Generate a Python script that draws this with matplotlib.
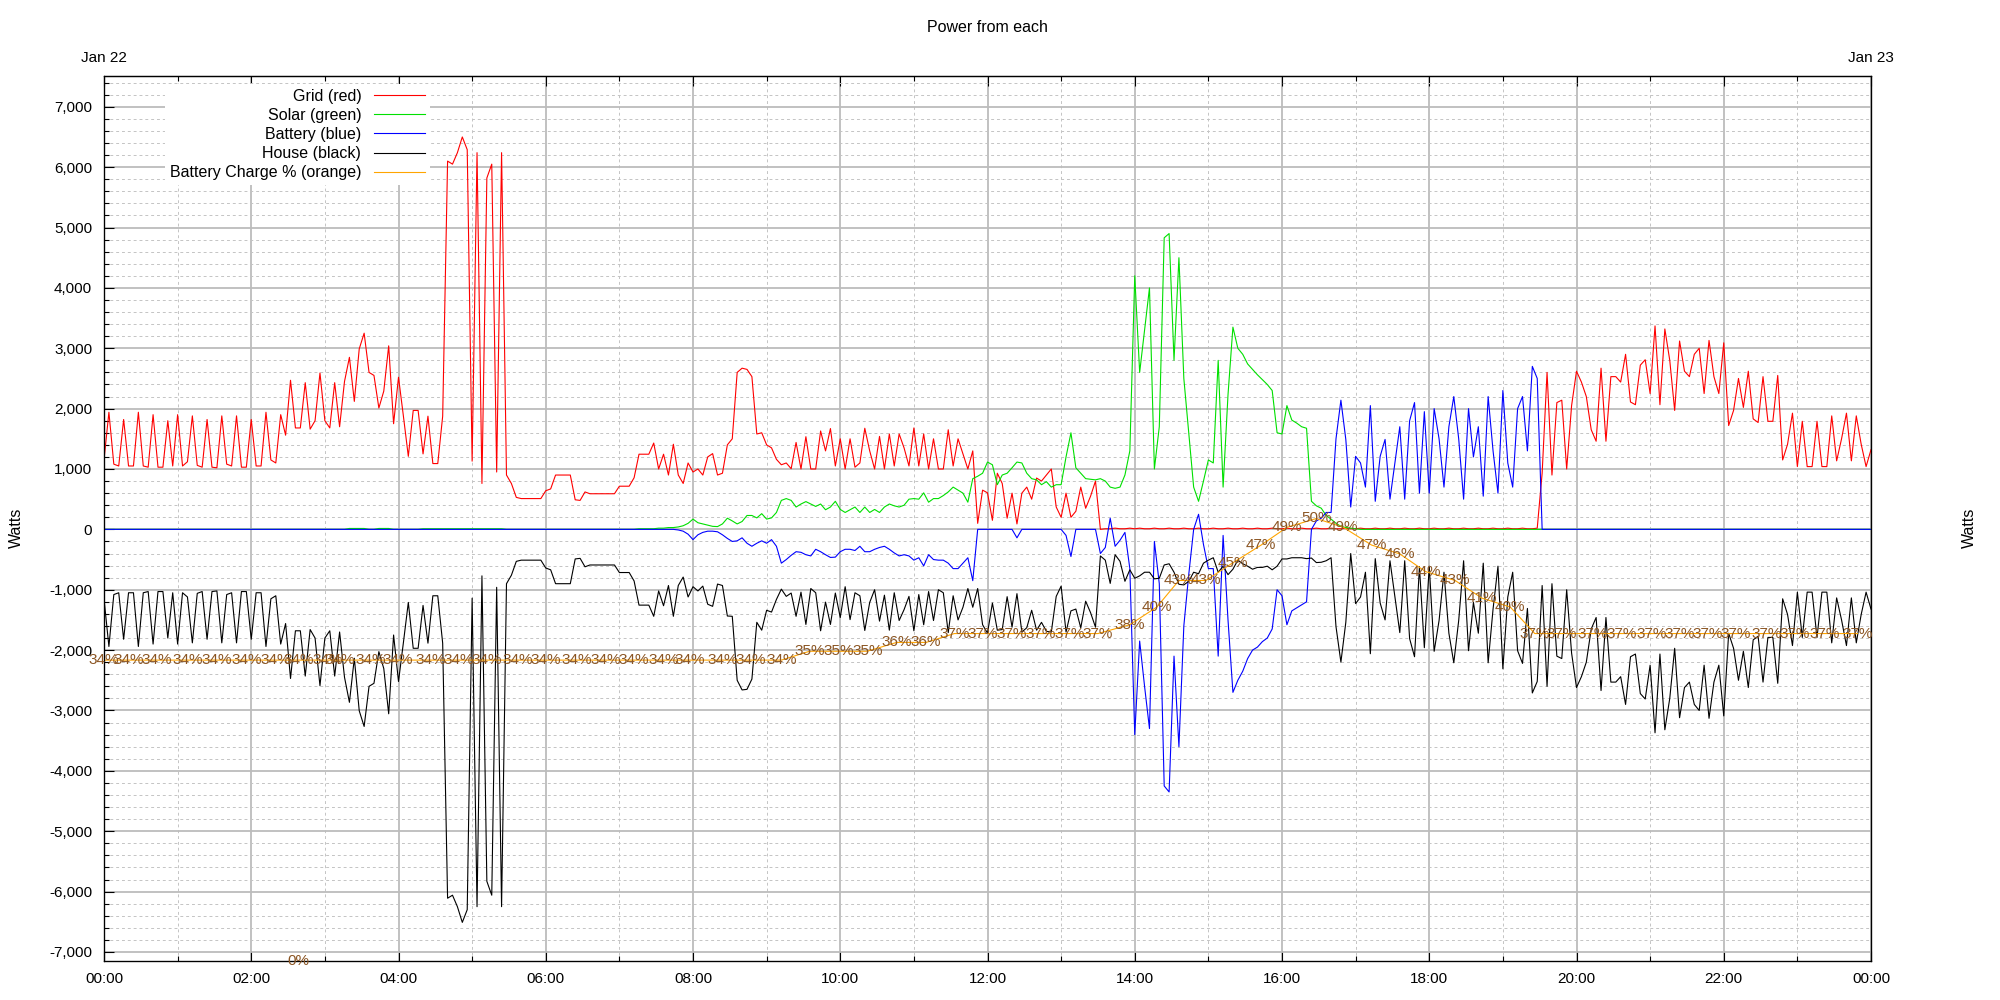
import matplotlib
matplotlib.use("Agg")
import matplotlib.pyplot as plt
from matplotlib.ticker import MultipleLocator, FuncFormatter

plt.rcParams['font.family'] = ['Liberation Sans', 'DejaVu Sans']

# ---------------------------------------------------------------------------
# data, one sample every 4 minutes, 00:00 Jan 22 -> 00:00 Jan 23 (watts)
# ---------------------------------------------------------------------------

minutes = list(range(0, 24 * 60 + 1, 4))

grid_w = [
    1150, 1940, 1080, 1050, 1820, 1050, 1050, 1940, 1050, 1030, 1900, 1030, 1030, 1800, 1050,  # 00h
    1900, 1050, 1120, 1880, 1060, 1030, 1820, 1030, 1020, 1880, 1080, 1050, 1880, 1030, 1030,  # 01h
    1820, 1050, 1050, 1940, 1150, 1100, 1900, 1560, 2470, 1680, 1680, 2430, 1660, 1800, 2590,  # 02h
    1800, 1680, 2430, 1700, 2450, 2850, 2120, 2990, 3250, 2600, 2550, 2010, 2290, 3040, 1750,  # 03h
    2520, 1875, 1210, 1970, 1970, 1250, 1875, 1090, 1090, 1875, 6100, 6050, 6240, 6500, 6290,  # 04h
    1130, 6240, 760, 5820, 6050, 950, 6240, 900, 760, 530, 510, 510, 510, 510, 510,  # 05h
    640, 670, 900, 900, 900, 900, 490, 480, 620, 590, 590, 590, 590, 590, 590,  # 06h
    715, 715, 715, 855, 1245, 1245, 1245, 1430, 1000, 1245, 900, 1410, 900, 760, 1100,  # 07h
    950, 1000, 900, 1200, 1255, 900, 930, 1400, 1500, 2600, 2670, 2650, 2530, 1580, 1600,  # 08h
    1400, 1350, 1160, 1070, 1100, 1005, 1440, 1000, 1535, 1000, 1000, 1630, 1300, 1670, 1050,  # 09h
    1500, 1000, 1500, 1030, 1100, 1675, 1300, 1000, 1540, 1000, 1580, 1050, 1580, 1350, 1050,  # 10h
    1680, 1050, 1580, 1000, 1500, 1000, 1000, 1650, 1050, 1500, 1250, 1000, 1300, 100, 650,  # 11h
    605, 150, 930, 760, 185, 600, 90, 600, 700, 500, 850, 800, 900, 1000, 370,  # 12h
    200, 600, 200, 300, 700, 350, 550, 800, 0, 10, 10, 20, 10, 10, 20,  # 13h
    10, 20, 10, 10, 20, 10, 10, 20, 10, 10, 20, 10, 10, 20, 10,  # 14h
    10, 20, 10, 10, 20, 10, 10, 20, 10, 10, 20, 10, 10, 20, 10,  # 15h
    10, 20, 10, 10, 20, 10, 10, 20, 10, 10, 20, 10, 10, 20, 10,  # 16h
    10, 20, 10, 10, 20, 10, 10, 20, 10, 10, 20, 10, 10, 20, 10,  # 17h
    10, 20, 10, 10, 20, 10, 10, 20, 10, 10, 20, 10, 10, 20, 10,  # 18h
    10, 20, 10, 10, 20, 10, 10, 20, 930, 2600, 900, 2100, 2140, 1000, 2050,  # 19h
    2620, 2440, 2200, 1650, 1460, 2670, 1460, 2530, 2530, 2440, 2900, 2110, 2065, 2720, 2810,  # 20h
    2250, 3370, 2065, 3320, 2800, 1970, 3120, 2620, 2530, 2900, 3000, 2250, 3130, 2530, 2250,  # 21h
    3090, 1720, 1970, 2500, 2020, 2620, 1830, 1770, 2530, 1790, 1790, 2550, 1150, 1410, 1925,  # 22h
    1040, 1790, 1040, 1040, 1790, 1040, 1040, 1880, 1135, 1500, 1925, 1135, 1880, 1410, 1040,  # 23h
    1320,
]

solar_w = [
    0, 0, 0, 0, 0, 0, 0, 0, 0, 0, 0, 0, 0, 0, 0,  # 00h
    0, 0, 0, 0, 0, 0, 0, 0, 0, 0, 0, 0, 0, 0, 0,  # 01h
    0, 0, 0, 0, 0, 0, 0, 0, 0, 0, 0, 0, 0, 0, 0,  # 02h
    0, 0, 0, 0, 0, 15, 15, 15, 15, 0, 0, 15, 15, 15, 0,  # 03h
    0, 0, 0, 0, 0, 10, 10, 10, 10, 10, 10, 10, 10, 10, 10,  # 04h
    10, 10, 10, 10, 10, 10, 10, 0, 0, 0, 0, 0, 0, 0, 0,  # 05h
    0, 0, 0, 0, 0, 0, 0, 0, 0, 0, 0, 0, 0, 0, 0,  # 06h
    0, 0, 0, 0, 10, 10, 10, 10, 20, 20, 30, 30, 40, 60, 100,  # 07h
    170, 110, 90, 70, 50, 46, 90, 185, 140, 90, 130, 230, 230, 190, 260,  # 08h
    170, 190, 280, 480, 510, 480, 370, 420, 460, 420, 380, 420, 325, 370, 465,  # 09h
    330, 280, 325, 370, 280, 370, 280, 330, 280, 370, 420, 390, 370, 400, 500,  # 10h
    510, 500, 605, 450, 510, 510, 560, 620, 700, 650, 600, 450, 840, 880, 930,  # 11h
    1115, 1070, 740, 900, 930, 1020, 1115, 1100, 930, 840, 820, 740, 790, 700, 740,  # 12h
    740, 1200, 1600, 1020, 930, 840, 830, 820, 840, 800, 700, 680, 700, 900, 1300,  # 13h
    4200, 2600, 3300, 4000, 1000, 1700, 4830, 4900, 2800, 4500, 2500, 1600, 700, 465, 800,  # 14h
    1150, 1100, 2800, 700, 2230, 3350, 3000, 2900, 2740, 2650, 2560, 2480, 2400, 2300, 1600,  # 15h
    1580, 2050, 1810, 1760, 1700, 1675, 465, 390, 350, 230, 170, 100, 50, 30, 20,  # 16h
    10, 0, 0, 0, 0, 0, 0, 0, 0, 0, 0, 0, 0, 0, 0,  # 17h
    0, 0, 0, 0, 0, 0, 0, 0, 0, 0, 0, 0, 0, 0, 0,  # 18h
    0, 0, 0, 0, 0, 0, 0, 0, 0, 0, 0, 0, 0, 0, 0,  # 19h
    0, 0, 0, 0, 0, 0, 0, 0, 0, 0, 0, 0, 0, 0, 0,  # 20h
    0, 0, 0, 0, 0, 0, 0, 0, 0, 0, 0, 0, 0, 0, 0,  # 21h
    0, 0, 0, 0, 0, 0, 0, 0, 0, 0, 0, 0, 0, 0, 0,  # 22h
    0, 0, 0, 0, 0, 0, 0, 0, 0, 0, 0, 0, 0, 0, 0,  # 23h
    0,
]

battery_w = [
    0, 0, 0, 0, 0, 0, 0, 0, 0, 0, 0, 0, 0, 0, 0,  # 00h
    0, 0, 0, 0, 0, 0, 0, 0, 0, 0, 0, 0, 0, 0, 0,  # 01h
    0, 0, 0, 0, 0, 0, 0, 0, 0, 0, 0, 0, 0, 0, 0,  # 02h
    0, 0, 0, 0, 0, 0, 0, 0, 0, 0, 0, 0, 0, 0, 0,  # 03h
    0, 0, 0, 0, 0, 0, 0, 0, 0, 0, 0, 0, 0, 0, 0,  # 04h
    0, 0, 0, 0, 0, 0, 0, 0, 0, 0, 0, 0, 0, 0, 0,  # 05h
    0, 0, 0, 0, 0, 0, 0, 0, 0, 0, 0, 0, 0, 0, 0,  # 06h
    0, 0, 0, 0, 0, 0, 0, 0, 0, 0, 0, 0, -10, -30, -80,  # 07h
    -170, -90, -50, -30, -30, -40, -90, -150, -200, -190, -140, -230, -280, -230, -190,  # 08h
    -230, -170, -280, -560, -500, -430, -370, -380, -420, -440, -330, -370, -420, -465, -460,  # 09h
    -370, -330, -330, -350, -280, -370, -370, -330, -300, -280, -330, -390, -440, -420, -440,  # 10h
    -510, -470, -605, -420, -500, -510, -510, -560, -650, -650, -560, -470, -850, 0, 0,  # 11h
    0, 0, 0, 0, 0, 0, -140, 0, 0, 0, 0, 0, 0, 0, 0,  # 12h
    0, -100, -450, 0, 0, 0, 0, 0, -400, -300, 185, -280, -180, -50, -650,  # 13h
    -3400, -1850, -2600, -3300, -200, -900, -4250, -4350, -2100, -3600, -1600, -750, 0, 250, -250,  # 14h
    -650, -650, -2100, -100, -1500, -2700, -2500, -2350, -2140, -2000, -1950, -1860, -1800, -1650, -1000,  # 15h
    -1100, -1580, -1350, -1300, -1250, -1200, 0, 140, 185, 280, 280, 1500, 2140, 1490, 370,  # 16h
    1210, 1100, 700, 2050, 465, 1210, 1490, 500, 1100, 1700, 500, 1800, 2100, 600, 1950,  # 17h
    600, 2000, 1500, 700, 1700, 2200, 1500, 500, 2000, 1200, 1700, 550, 2200, 1300, 600,  # 18h
    2300, 1100, 700, 2000, 2200, 1300, 2700, 2500, 0, 0, 0, 0, 0, 0, 0,  # 19h
    0, 0, 0, 0, 0, 0, 0, 0, 0, 0, 0, 0, 0, 0, 0,  # 20h
    0, 0, 0, 0, 0, 0, 0, 0, 0, 0, 0, 0, 0, 0, 0,  # 21h
    0, 0, 0, 0, 0, 0, 0, 0, 0, 0, 0, 0, 0, 0, 0,  # 22h
    0, 0, 0, 0, 0, 0, 0, 0, 0, 0, 0, 0, 0, 0, 0,  # 23h
    0,
]

house_w = [
    -1150, -1940, -1080, -1050, -1820, -1050, -1050, -1940, -1050, -1030, -1900, -1030, -1030, -1800, -1050,  # 00h
    -1900, -1050, -1120, -1880, -1060, -1030, -1820, -1030, -1020, -1880, -1080, -1050, -1880, -1030, -1030,  # 01h
    -1820, -1050, -1050, -1940, -1150, -1100, -1900, -1560, -2470, -1680, -1680, -2430, -1660, -1800, -2590,  # 02h
    -1800, -1680, -2430, -1700, -2450, -2865, -2135, -3005, -3265, -2600, -2550, -2025, -2305, -3055, -1750,  # 03h
    -2520, -1875, -1210, -1970, -1970, -1260, -1885, -1100, -1100, -1885, -6110, -6060, -6250, -6510, -6300,  # 04h
    -1140, -6250, -770, -5830, -6060, -960, -6250, -900, -760, -530, -510, -510, -510, -510, -510,  # 05h
    -640, -670, -900, -900, -900, -900, -490, -480, -620, -590, -590, -590, -590, -590, -590,  # 06h
    -715, -715, -715, -855, -1255, -1255, -1255, -1440, -1020, -1265, -930, -1440, -930, -790, -1120,  # 07h
    -950, -1020, -940, -1240, -1275, -906, -930, -1435, -1440, -2500, -2660, -2650, -2480, -1540, -1670,  # 08h
    -1340, -1370, -1160, -990, -1110, -1055, -1440, -1040, -1575, -980, -1050, -1680, -1205, -1575, -1055,  # 09h
    -1460, -950, -1495, -1050, -1100, -1675, -1210, -1000, -1520, -1090, -1670, -1050, -1510, -1330, -1110,  # 10h
    -1680, -1080, -1580, -1030, -1510, -1000, -1050, -1710, -1100, -1500, -1290, -980, -1290, -980, -1580,  # 11h
    -1720, -1220, -1670, -1660, -1115, -1620, -1065, -1700, -1630, -1340, -1670, -1540, -1690, -1700, -1110,  # 12h
    -940, -1700, -1350, -1320, -1630, -1190, -1380, -1620, -440, -510, -895, -420, -530, -860, -670,  # 13h
    -810, -770, -710, -710, -820, -810, -590, -570, -710, -910, -920, -860, -710, -735, -560,  # 14h
    -510, -470, -710, -610, -750, -660, -510, -570, -610, -660, -630, -630, -610, -670, -610,  # 15h
    -490, -490, -470, -470, -470, -485, -475, -550, -545, -520, -470, -1610, -2200, -1540, -400,  # 16h
    -1230, -1120, -710, -2060, -485, -1220, -1500, -520, -1110, -1710, -520, -1810, -2110, -620, -1960,  # 17h
    -610, -2020, -1510, -710, -1720, -2210, -1510, -520, -2010, -1210, -1720, -560, -2210, -1320, -610,  # 18h
    -2310, -1120, -710, -2010, -2220, -1310, -2710, -2520, -930, -2600, -900, -2100, -2140, -1000, -2050,  # 19h
    -2620, -2440, -2200, -1650, -1460, -2670, -1460, -2530, -2530, -2440, -2900, -2110, -2065, -2720, -2810,  # 20h
    -2250, -3370, -2065, -3320, -2800, -1970, -3120, -2620, -2530, -2900, -3000, -2250, -3130, -2530, -2250,  # 21h
    -3090, -1720, -1970, -2500, -2020, -2620, -1830, -1770, -2530, -1790, -1790, -2550, -1150, -1410, -1925,  # 22h
    -1040, -1790, -1040, -1040, -1790, -1040, -1040, -1880, -1135, -1500, -1925, -1135, -1880, -1410, -1040,  # 23h
    -1320,
]

# battery state of charge (%), labelled points
charge_min = [0, 20, 43, 68, 92, 116, 140, 159, 182, 192,
              217, 239, 266, 289, 312, 337, 360, 385, 409, 432,
              456, 477, 504, 527, 552, 575, 599, 622, 646, 670,
              693, 716, 740, 763, 787, 810, 836, 858, 876, 898,
              920, 943, 964, 988, 1010, 1033, 1056, 1077, 1101, 1123,
              1146, 1166, 1188, 1213, 1237, 1261, 1284, 1307, 1330, 1355,
              1378, 1402, 1429]
charge_pct = [34, 34, 34, 34, 34, 34, 34, 34, 34, 34,
              34, 34, 34, 34, 34, 34, 34, 34, 34, 34,
              34, 34, 34, 34, 34, 35, 35, 35, 36, 36,
              37, 37, 37, 37, 37, 37, 38, 40, 43, 43,
              45, 47, 49, 50, 49, 47, 46, 44, 43, 41,
              40, 37, 37, 37, 37, 37, 37, 37, 37, 37,
              37, 37, 37]
# one dropout reading
dropout_min = [158]
dropout_pct = [0]

# ---------------------------------------------------------------------------
# plot
# ---------------------------------------------------------------------------

hours = [m / 60 for m in minutes]
charge_hours = [m / 60 for m in charge_min]
dropout_hours = [m / 60 for m in dropout_min]

fig = plt.figure(figsize=(20, 10), dpi=100)
ax = fig.add_axes([0.052, 0.039, 0.8835, 0.885])

lw = 0.8
ax.plot(hours, grid_w, color='#ff0000', lw=lw, label='Grid (red)')
ax.plot(hours, solar_w, color='#00e000', lw=lw, label='Solar (green)')
ax.plot(hours, battery_w, color='#0000ff', lw=lw, label='Battery (blue)')
ax.plot(hours, house_w, color='#000000', lw=lw, label='House (black)')

ax.set_xlim(0, 24)
ax.set_ylim(-7150, 7510)
ax.set_axisbelow(True)

ax.xaxis.set_major_locator(MultipleLocator(2))
ax.xaxis.set_minor_locator(MultipleLocator(1))
ax.xaxis.set_major_formatter(FuncFormatter(lambda v, p: f'{int(round(v)) % 24:02d}:00'))
ax.yaxis.set_major_locator(MultipleLocator(1000))
ax.yaxis.set_minor_locator(MultipleLocator(200))
ax.yaxis.set_major_formatter(FuncFormatter(lambda v, p: f'{int(round(v)):,}'))

ax.grid(which='major', color='#bcbcbc', lw=1.3, ls='-')
ax.grid(which='minor', color='#c4c4c4', lw=0.7, ls=(0, (3, 3)))

ax.tick_params(which='both', direction='in', top=True, right=True,
               labelright=True, labelsize=11, width=0.8)
ax.tick_params(axis='y', pad=8.5)
ax.tick_params(axis='x', pad=8)
ax.tick_params(which='major', length=7.5)
ax.tick_params(which='minor', length=3.8)
for s in ax.spines.values():
    s.set_linewidth(0.9)

ax.set_ylabel('Watts', fontsize=11.5)
ax.yaxis.set_label_coords(-0.0455, 0.489)
fig.text(0.9845, 0.472, 'Watts', rotation=90, ha='center', va='center', fontsize=11.5)

fig.text(0.4938, 0.973, 'Power from each', ha='center', va='center', fontsize=11.5)

secx = ax.secondary_xaxis('top')
secx.set_xticks([0, 24], labels=['Jan 22', 'Jan 23'])
secx.tick_params(length=0, pad=8, labelsize=11)

# battery charge % on its own 0-100 scale over the full plot height
ax2 = ax.twinx()
ax2.set_ylim(0, 100)
ax2.set_yticks([])
ax2.plot(charge_hours, charge_pct, color='#ffa500', lw=lw, label='Battery Charge % (orange)')
for h, p in zip(charge_hours + dropout_hours, charge_pct + dropout_pct):
    ax2.text(h, p, f'{p}%', ha='center', va='center', fontsize=11, color='#8b5523')

handles = ax.get_legend_handles_labels()[0] + ax2.get_legend_handles_labels()[0]
ax2.legend(handles=handles, loc='upper right', bbox_to_anchor=(0.1845, 0.991),
           markerfirst=False, frameon=True, facecolor='white', edgecolor='none',
           framealpha=1, fancybox=False, fontsize=11.5, handlelength=3.2,
           handletextpad=0.8, labelspacing=0.26, borderpad=0.3, borderaxespad=0)

fig.savefig('out.png', dpi=100)
